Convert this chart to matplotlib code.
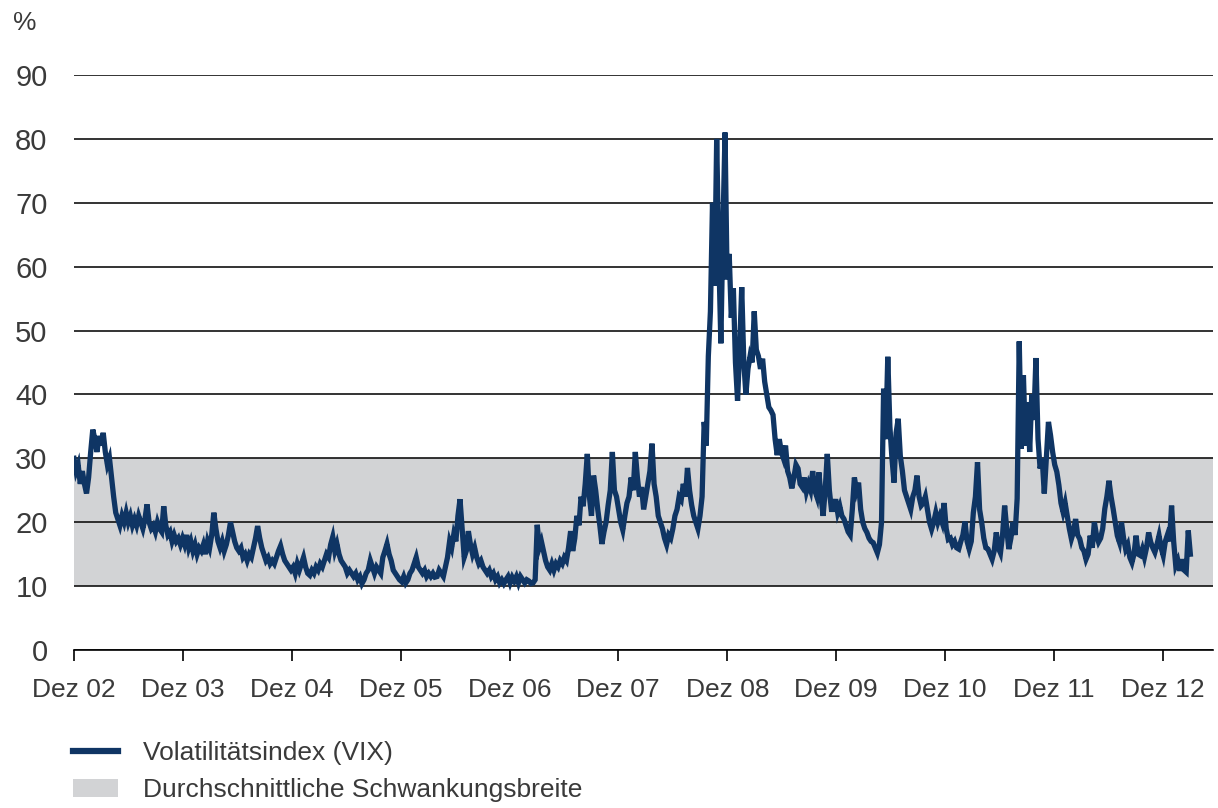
import numpy as np
import pandas as pd
import matplotlib
matplotlib.use("Agg")
import matplotlib.pyplot as plt
from matplotlib.lines import Line2D
from matplotlib.patches import Patch

plt.rcParams['font.family'] = ['Liberation Sans', 'DejaVu Sans']

#===============================================================================
# DATA  (weekly VIX readings, starting 1 Dec 2002)
#===============================================================================

START = "2002-12-01"

vix_2003 = [30, 28, 29, 26, 28, 26, 24.5, 27, 31, 34.5,
            33, 31, 33.5, 32, 34, 31, 29, 30, 27, 24,
            21.5, 20.5, 19.5, 21, 20, 21.5, 20, 21, 19.5, 20.5,
            19.5, 21, 20, 19, 20.5, 22.8, 20, 19, 19.5, 18.5,
            20, 19, 18.5, 22.5, 19.5, 18, 18.5, 17, 18, 17,
            17.5, 16.5]
vix_2004 = [17.5, 16.5, 18, 16, 17, 15.5, 16.5, 15, 16, 15.5,
            16.5, 15, 17, 16, 18, 21.5, 19, 17, 16, 17,
            15.5, 16.5, 18, 20, 18.5, 17, 16, 15.5, 16, 14.5,
            15, 14, 15, 14.5, 16, 17.5, 19.4, 17.5, 16, 15,
            14, 14.5, 13.5, 14, 13.5, 14.5, 15.5, 16.3, 15, 14,
            13.5, 13]
vix_2005 = [12.5, 13, 12, 13.5, 12.5, 13.5, 14.5, 13, 12, 11.7,
            12.5, 12, 13, 12.5, 13.5, 13, 14, 15, 14.5, 16.5,
            17.7, 15.5, 16.6, 15, 14, 13.5, 13, 12, 12.5, 12,
            11.5, 12, 11, 11.5, 10.4, 11, 12, 12.5, 14, 13,
            12, 13, 12.5, 12, 14.5, 15.5, 16.6, 15, 14, 12.5,
            12, 11.5]
vix_2006 = [11, 10.7, 11.5, 10.5, 11, 12, 12.5, 13.5, 14.5, 13,
            12.5, 12, 12.5, 11.5, 12, 11.5, 12, 11.4, 11.5, 12.5,
            12, 11.5, 13, 14.5, 17, 16, 18.1, 17, 21, 23.6,
            19, 14.5, 15.5, 18.6, 16.5, 15, 16, 14.5, 13.5, 14,
            13, 12.5, 12, 12.5, 11.5, 12, 11, 11.5, 10.5, 11,
            10.4, 11]
vix_2007 = [11.5, 10.5, 11.4, 10.8, 11.5, 10.5, 11.5, 11, 10.5, 11,
            10.8, 10.4, 10.5, 11, 19.6, 16, 17, 15.5, 14, 13,
            12.5, 13.5, 12.5, 13.5, 13, 14, 13.5, 14.5, 14, 16,
            18.6, 15.5, 17.5, 21, 19.5, 24, 22.5, 26, 30.7, 24,
            21, 27.3, 25, 22, 19.5, 16.6, 18.5, 20, 22.7, 25,
            31, 25]
vix_2008 = [24, 22, 20, 18.8, 21, 23, 24, 27, 25, 31,
            27, 24, 25.5, 22, 24, 26, 28, 32.3, 26, 24,
            21, 20, 19, 17.5, 16.5, 18, 17.5, 19, 21, 22,
            24, 23.5, 26, 24, 28.5, 25, 22.7, 21, 20, 19,
            21, 24, 35.7, 32, 46, 53, 70, 57, 80, 62,
            48, 66]
vix_2009 = [81, 58, 62, 52, 56.6, 45, 39, 47, 56.8, 45,
            40, 44, 46, 45, 53, 47, 46, 44, 45.6, 42,
            40, 38, 37.5, 36.8, 33, 30.5, 33, 31, 30, 32,
            28, 27, 25.3, 27, 29, 28.4, 26, 25.5, 27, 24.8,
            26, 25, 28, 25, 24, 27.8, 24, 21, 25, 30.7,
            25, 22]
vix_2010 = [22, 23.6, 21.5, 22.5, 21, 20.5, 19.5, 18.5, 18, 22,
            27, 25, 26.2, 22, 20, 19, 18.4, 17.5, 17, 16.8,
            16, 15.2, 16.5, 20, 40.9, 33, 45.9, 35, 30, 26.2,
            34, 36.2, 30.4, 28, 25, 24, 23, 22, 24, 25,
            27.3, 24, 22.6, 23, 24, 22, 20, 18.9, 20, 21.5,
            20, 21]
vix_2011 = [20, 23, 19, 17.3, 17.5, 16.5, 17, 16, 15.8, 17,
            18, 20.1, 17, 15.8, 17, 21.5, 24, 29.4, 22, 20,
            17.5, 16, 15.8, 15, 14.2, 15.5, 18.4, 16, 15.2, 18,
            22.6, 19, 15.8, 17.5, 20, 18, 23.7, 48.3, 31.5, 43,
            32, 38.8, 31, 40, 36, 45.7, 33, 28.4, 30, 24.5,
            30, 35.7]
vix_2012 = [33.6, 31, 29, 27.9, 25.8, 23, 21.6, 23, 21, 19,
            17.4, 18.5, 20.5, 18, 17.4, 16, 15.5, 14.2, 15, 17.9,
            16, 20, 18, 16.9, 17.5, 19, 22.1, 24, 26.5, 24,
            22.1, 20, 17.9, 16.9, 20, 17.5, 15.8, 16.5, 14.5, 13.7,
            15, 17.9, 15, 14.8, 15.8, 14.5, 16, 18.4, 16.9, 16,
            15.3, 16.5]
vix_2013 = [17.9, 16, 14.8, 17, 18, 17, 22.6, 17, 13.2, 14,
            12.4, 14.2, 12.5, 12.2, 18.7, 15]

band_low, band_high = 10, 30
tick_years = list(range(2002, 2013))
tick_labels = ["Dez %02d" % (y % 100) for y in tick_years]

LINE_COLOR = "#0f3564"
BAND_COLOR = "#d2d3d5"
TEXT_COLOR = "#3a3a3a"

vix = (vix_2003 + vix_2004 + vix_2005 + vix_2006 + vix_2007 + vix_2008
       + vix_2009 + vix_2010 + vix_2011 + vix_2012 + vix_2013)
dates = pd.date_range(START, periods=len(vix), freq="7D")

#===============================================================================
# PLOT
#===============================================================================

fig = plt.figure(figsize=(12.18, 8.08), dpi=100)
ax = fig.add_axes([74 / 1218, 158 / 808, 1139 / 1218, 575 / 808])

ax.axhspan(band_low, band_high, color=BAND_COLOR, zorder=0, lw=0)
ax.plot(dates, vix, color=LINE_COLOR, lw=3.8, solid_joinstyle="miter", zorder=3)

ax.set_ylim(0, 90)
ax.set_yticks(np.arange(0, 91, 10))
ax.yaxis.grid(True, color="#111111", lw=1.2)
ax.tick_params(axis="y", length=0, pad=19, labelsize=21, labelcolor=TEXT_COLOR)

ax.set_xlim(pd.Timestamp(START), pd.Timestamp("2013-05-18"))
ax.set_xticks([pd.Timestamp("%d-12-01" % y) for y in tick_years])
ax.set_xticklabels(tick_labels)
ax.tick_params(axis="x", length=8, width=1.2, direction="out", pad=12,
               labelsize=19, labelcolor=TEXT_COLOR)

for s in ["left", "right", "top"]:
    ax.spines[s].set_visible(False)
ax.spines["bottom"].set_linewidth(1.2)

fig.text(13 / 1218, 1 - 23 / 808, "%", fontsize=19, color=TEXT_COLOR, va="center")

handles = [Line2D([0], [0], color=LINE_COLOR, lw=4.5),
           Patch(facecolor=BAND_COLOR, edgecolor="none")]
fig.legend(handles, ["Volatilitätsindex (VIX)", "Durchschnittliche Schwankungsbreite"],
           loc="upper left", bbox_to_anchor=(73 / 1218, 1 - 741 / 808),
           frameon=False, borderpad=0, borderaxespad=0, fontsize=19,
           handlelength=1.7, handletextpad=0.95, labelspacing=0.5,
           labelcolor=TEXT_COLOR)

plt.savefig("out.png", dpi=100)
plt.close()
